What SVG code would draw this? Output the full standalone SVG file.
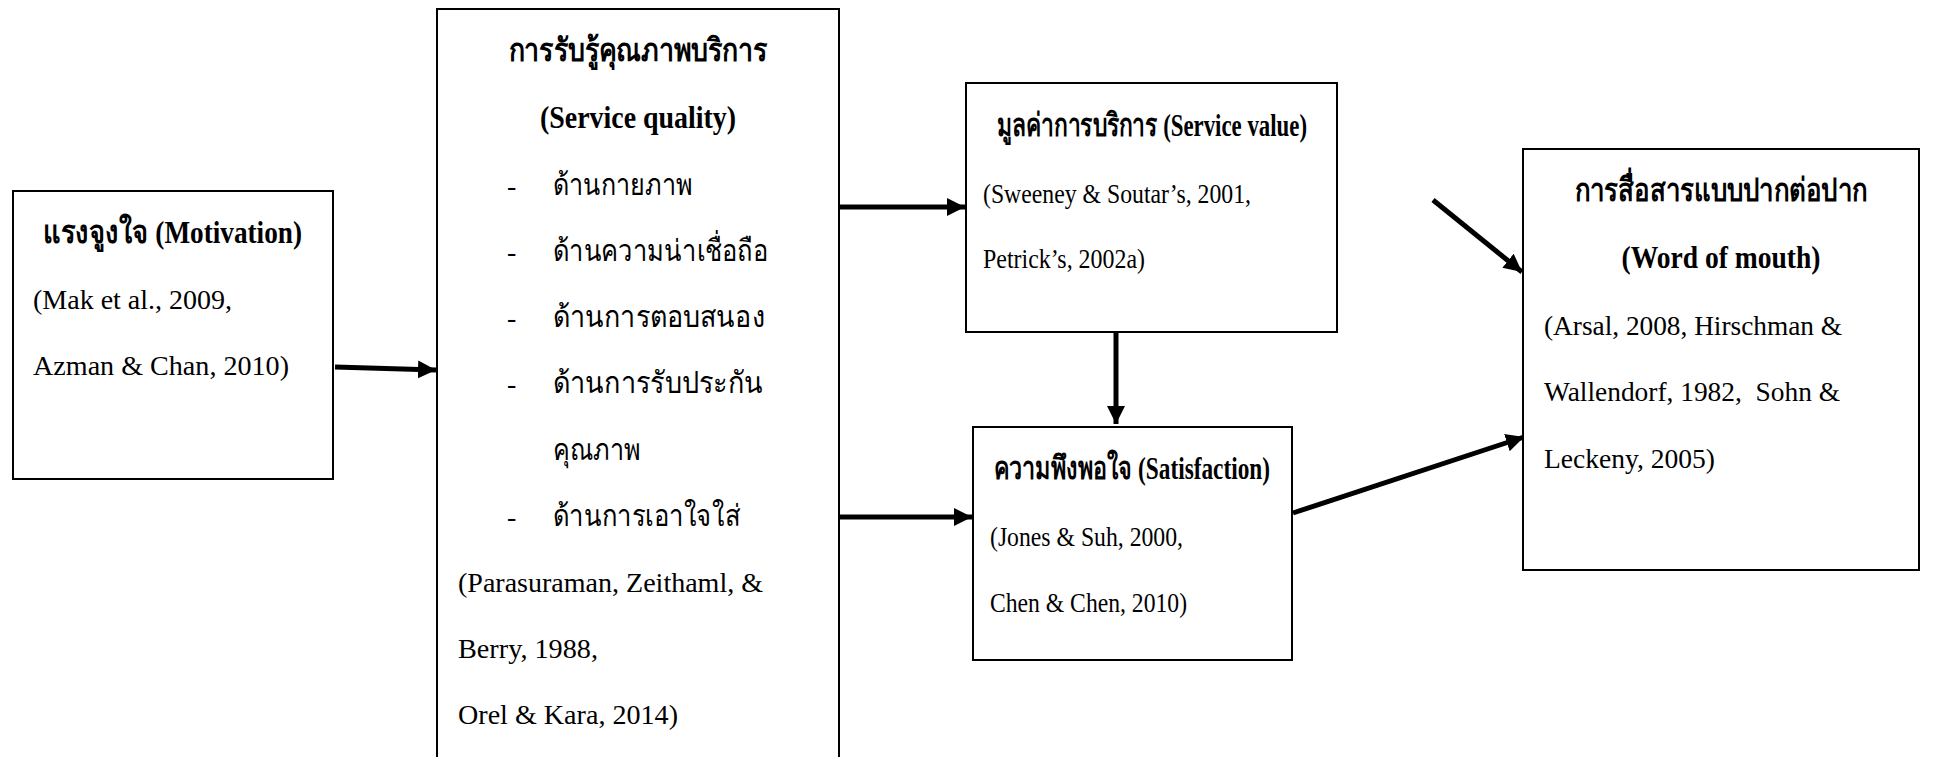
<svg xmlns="http://www.w3.org/2000/svg" width="1939" height="757" viewBox="0 0 1939 757">
<style>
.box{fill:#fff;stroke:#000;stroke-width:2}
text{font-family:"Liberation Serif","Noto Sans",serif;font-size:28px;fill:#000;white-space:pre}
.b{font-weight:bold;font-size:32px}
.th{font-size:30px}
.c{text-anchor:middle}
.con{stroke:#000;stroke-width:5;fill:none}
</style>
<defs>
<marker id="ah" markerUnits="userSpaceOnUse" markerWidth="20" markerHeight="20" viewBox="0 0 20 20" refX="18" refY="10" orient="auto">
<path d="M0,1 L18,10 L0,19 Z" fill="#000"/>
</marker>
</defs>
<g id="connectors">
<line class="con" x1="335" y1="367" x2="436" y2="370" marker-end="url(#ah)"/>
<line class="con" x1="839" y1="207" x2="965" y2="207" marker-end="url(#ah)"/>
<line class="con" x1="839" y1="517" x2="972" y2="517" marker-end="url(#ah)"/>
<line class="con" x1="1116" y1="333" x2="1116" y2="424" marker-end="url(#ah)"/>
<line class="con" x1="1433" y1="200" x2="1522" y2="272" marker-end="url(#ah)"/>
<line class="con" x1="1293" y1="513" x2="1524" y2="437" marker-end="url(#ah)"/>
</g>
<g id="motivation">
<rect class="box" x="13" y="191" width="320" height="288"/>
<text class="b" x="43" y="243" textLength="259" lengthAdjust="spacingAndGlyphs">แรงจูงใจ (Motivation)</text>
<text x="33" y="309" textLength="199" lengthAdjust="spacingAndGlyphs">(Mak et al., 2009,</text>
<text x="33" y="375" textLength="256" lengthAdjust="spacingAndGlyphs">Azman &amp; Chan, 2010)</text>
</g>
<g id="service-quality">
<rect class="box" x="437" y="9" width="402" height="770"/>
<text class="b c" x="638" y="61" textLength="259" lengthAdjust="spacingAndGlyphs">การรับรู้คุณภาพบริการ</text>
<text class="b c" x="638" y="128" textLength="196" lengthAdjust="spacingAndGlyphs">(Service quality)</text>
<text x="507" y="195">-</text><text class="th" x="553" y="195" textLength="140" lengthAdjust="spacingAndGlyphs">ด้านกายภาพ</text>
<text x="507" y="261">-</text><text class="th" x="553" y="261" textLength="215" lengthAdjust="spacingAndGlyphs">ด้านความน่าเชื่อถือ</text>
<text x="507" y="327">-</text><text class="th" x="553" y="327" textLength="212" lengthAdjust="spacingAndGlyphs">ด้านการตอบสนอง</text>
<text x="507" y="393">-</text><text class="th" x="553" y="393" textLength="210" lengthAdjust="spacingAndGlyphs">ด้านการรับประกัน</text>
<text class="th" x="553" y="460" textLength="88" lengthAdjust="spacingAndGlyphs">คุณภาพ</text>
<text x="507" y="526">-</text><text class="th" x="553" y="526" textLength="187" lengthAdjust="spacingAndGlyphs">ด้านการเอาใจใส่</text>
<text x="458" y="592" textLength="305" lengthAdjust="spacingAndGlyphs">(Parasuraman, Zeithaml, &amp;</text>
<text x="458" y="658" textLength="140" lengthAdjust="spacingAndGlyphs">Berry, 1988,</text>
<text x="458" y="724" textLength="220" lengthAdjust="spacingAndGlyphs">Orel &amp; Kara, 2014)</text>
</g>
<g id="service-value">
<rect class="box" x="966" y="83" width="371" height="249"/>
<text class="b c" x="1152" y="136" textLength="310" lengthAdjust="spacingAndGlyphs">มูลค่าการบริการ (Service value)</text>
<text x="983" y="203" textLength="268" lengthAdjust="spacingAndGlyphs">(Sweeney &amp; Soutar’s, 2001,</text>
<text x="983" y="268" textLength="162" lengthAdjust="spacingAndGlyphs">Petrick’s, 2002a)</text>
</g>
<g id="satisfaction">
<rect class="box" x="973" y="427" width="319" height="233"/>
<text class="b c" x="1132" y="479" textLength="276" lengthAdjust="spacingAndGlyphs">ความพึงพอใจ (Satisfaction)</text>
<text x="990" y="546" textLength="193" lengthAdjust="spacingAndGlyphs">(Jones &amp; Suh, 2000,</text>
<text x="990" y="612" textLength="197" lengthAdjust="spacingAndGlyphs">Chen &amp; Chen, 2010)</text>
</g>
<g id="word-of-mouth">
<rect class="box" x="1523" y="149" width="396" height="421"/>
<text class="b c" x="1721" y="201" textLength="293" lengthAdjust="spacingAndGlyphs">การสื่อสารแบบปากต่อปาก</text>
<text class="b c" x="1721" y="268" textLength="199" lengthAdjust="spacingAndGlyphs">(Word of mouth)</text>
<text x="1544" y="335" textLength="298" lengthAdjust="spacingAndGlyphs">(Arsal, 2008, Hirschman &amp;</text>
<text x="1544" y="401" textLength="296" lengthAdjust="spacingAndGlyphs">Wallendorf, 1982,  Sohn &amp;</text>
<text x="1544" y="468" textLength="171" lengthAdjust="spacingAndGlyphs">Leckeny, 2005)</text>
</g>
</svg>
